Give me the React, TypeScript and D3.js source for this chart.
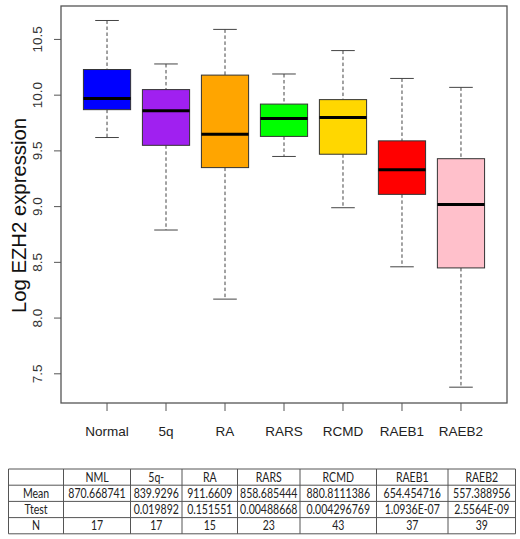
import React, { useEffect, useRef } from 'react';
import * as d3 from 'd3';

const categories = ['Normal', '5q', 'RA', 'RARS', 'RCMD', 'RAEB1', 'RAEB2'];
const whiskerLow = [9.62, 8.79, 8.17, 9.45, 8.99, 8.46, 7.38];
const q1 = [9.87, 9.55, 9.35, 9.63, 9.47, 9.11, 8.45];
const median = [9.97, 9.86, 9.65, 9.79, 9.8, 9.33, 9.02];
const q3 = [10.23, 10.05, 10.18, 9.92, 9.96, 9.59, 9.43];
const whiskerHigh = [10.67, 10.28, 10.59, 10.19, 10.4, 10.15, 10.07];
const boxColors = ['#0000FF', '#A020F0', '#FFA500', '#00FF00', '#FFD700', '#FF0000', '#FFC0CB'];
const yTicks = [7.5, 8.0, 8.5, 9.0, 9.5, 10.0, 10.5];

const tableHeader = ['', 'NML', '5q-', 'RA', 'RARS', 'RCMD', 'RAEB1', 'RAEB2'];
const meanRow = ['Mean', '870.668741', '839.9296', '911.6609', '858.685444', '880.8111386', '654.454716', '557.388956'];
const ttestRow = ['Ttest', '', '0.019892', '0.151551', '0.00488668', '0.004296769', '1.0936E-07', '2.5564E-09'];
const nRow = ['N', '17', '17', '15', '23', '43', '37', '39'];

const colEdges = [8.5, 63.5, 130.5, 182, 237.5, 300, 376.5, 448, 515.5];

const W = 520;
const H = 539;

const BoxPlot: React.FC = () => {
  const svgRef = useRef<SVGSVGElement | null>(null);

  useEffect(() => {
    document.body.style.margin = '0';
    const svg = d3.select(svgRef.current);
    svg.selectAll('*').remove();

    const plot = { left: 61, right: 507, top: 6, bottom: 403 };
    const x = d3.scaleLinear().domain([0.22, 7.78]).range([plot.left, plot.right]);
    const y = d3.scaleLinear().domain([7.238, 10.8]).range([plot.bottom, plot.top]);
    const unit = x(1) - x(0);
    const boxHalf = 0.4 * unit;
    const capHalf = 0.2 * unit;
    const axisCol = '#555';

    const stats = categories.map((c, i) => ({
      name: c,
      pos: i + 1,
      lo: whiskerLow[i],
      q1: q1[i],
      med: median[i],
      q3: q3[i],
      hi: whiskerHigh[i],
      color: boxColors[i],
    }));

    const g = svg.append('g');
    const box = g.selectAll('g.box').data(stats).enter().append('g').attr('class', 'box');

    // whiskers
    box.append('line')
      .attr('x1', d => x(d.pos)).attr('x2', d => x(d.pos))
      .attr('y1', d => y(d.hi)).attr('y2', d => y(d.q3))
      .attr('stroke', '#444').attr('stroke-dasharray', '3.5,2.5');
    box.append('line')
      .attr('x1', d => x(d.pos)).attr('x2', d => x(d.pos))
      .attr('y1', d => y(d.q1)).attr('y2', d => y(d.lo))
      .attr('stroke', '#444').attr('stroke-dasharray', '3.5,2.5');
    // caps
    box.append('line')
      .attr('x1', d => x(d.pos) - capHalf).attr('x2', d => x(d.pos) + capHalf)
      .attr('y1', d => y(d.hi)).attr('y2', d => y(d.hi))
      .attr('stroke', '#444');
    box.append('line')
      .attr('x1', d => x(d.pos) - capHalf).attr('x2', d => x(d.pos) + capHalf)
      .attr('y1', d => y(d.lo)).attr('y2', d => y(d.lo))
      .attr('stroke', '#444');
    // boxes
    box.append('rect')
      .attr('x', d => x(d.pos) - boxHalf)
      .attr('y', d => y(d.q3))
      .attr('width', boxHalf * 2)
      .attr('height', d => y(d.q1) - y(d.q3))
      .attr('fill', d => d.color)
      .attr('stroke', '#333')
      .attr('stroke-width', 1);
    // medians
    box.append('line')
      .attr('x1', d => x(d.pos) - boxHalf).attr('x2', d => x(d.pos) + boxHalf)
      .attr('y1', d => y(d.med)).attr('y2', d => y(d.med))
      .attr('stroke', '#000').attr('stroke-width', 3);

    // frame
    svg.append('rect')
      .attr('x', plot.left).attr('y', plot.top)
      .attr('width', plot.right - plot.left).attr('height', plot.bottom - plot.top)
      .attr('fill', 'none').attr('stroke', axisCol).attr('stroke-width', 1.3);

    // y axis
    const ya = svg.append('g');
    ya.selectAll('line').data(yTicks).enter().append('line')
      .attr('x1', plot.left - 7).attr('x2', plot.left)
      .attr('y1', d => y(d)).attr('y2', d => y(d))
      .attr('stroke', axisCol);
    ya.selectAll('text').data(yTicks).enter().append('text')
      .attr('transform', d => `translate(42,${y(d)}) rotate(-90)`)
      .attr('text-anchor', 'middle')
      .attr('font-family', 'Liberation Sans, Arial, sans-serif')
      .attr('font-size', 13.5)
      .attr('fill', '#333')
      .text(d => d3.format('.1f')(d));

    svg.append('text')
      .attr('transform', `translate(26,${(plot.top + plot.bottom) / 2 + 11}) rotate(-90)`)
      .attr('text-anchor', 'middle')
      .attr('font-family', 'Liberation Sans, Arial, sans-serif')
      .attr('font-size', 20.3)
      .attr('fill', '#111')
      .text('Log EZH2 expression');

    // x axis
    const xa = svg.append('g');
    xa.selectAll('line').data(stats).enter().append('line')
      .attr('x1', d => x(d.pos)).attr('x2', d => x(d.pos))
      .attr('y1', plot.bottom).attr('y2', plot.bottom + 8)
      .attr('stroke', axisCol);
    xa.selectAll('text').data(stats).enter().append('text')
      .attr('x', d => x(d.pos)).attr('y', 435.5)
      .attr('text-anchor', 'middle')
      .attr('font-family', 'Liberation Sans, Arial, sans-serif')
      .attr('font-size', 13.5)
      .attr('fill', '#222')
      .text(d => d.name);

    // table
    const rows = [tableHeader, meanRow, ttestRow, nRow];
    const rowEdges = d3.range(rows.length + 1).map(i => 469 + i * 16.2);
    const t = svg.append('g');
    rowEdges.forEach(ry => {
      t.append('line')
        .attr('x1', colEdges[0]).attr('x2', colEdges[colEdges.length - 1])
        .attr('y1', ry).attr('y2', ry)
        .attr('stroke', '#555').attr('stroke-width', 1);
    });
    colEdges.forEach(cx => {
      t.append('line')
        .attr('x1', cx).attr('x2', cx)
        .attr('y1', rowEdges[0]).attr('y2', rowEdges[rowEdges.length - 1])
        .attr('stroke', '#555').attr('stroke-width', 1);
    });
    rows.forEach((row, ri) => {
      row.forEach((cell, ci) => {
        const cx = (colEdges[ci] + colEdges[ci + 1]) / 2;
        const cy = (rowEdges[ri] + rowEdges[ri + 1]) / 2 + 4.5;
        t.append('text')
          .attr('transform', `translate(${cx},${cy}) scale(0.81,1)`)
          .attr('text-anchor', 'middle')
          .attr('font-family', 'Lato, Open Sans, sans-serif')
          .attr('font-size', 13)
          .attr('fill', '#222')
          .text(cell);
      });
    });
  }, []);

  return <svg ref={svgRef} width={W} height={H} style={{ display: 'block', background: '#fff' }} />;
};

export default function App() {
  return <BoxPlot />;
}
